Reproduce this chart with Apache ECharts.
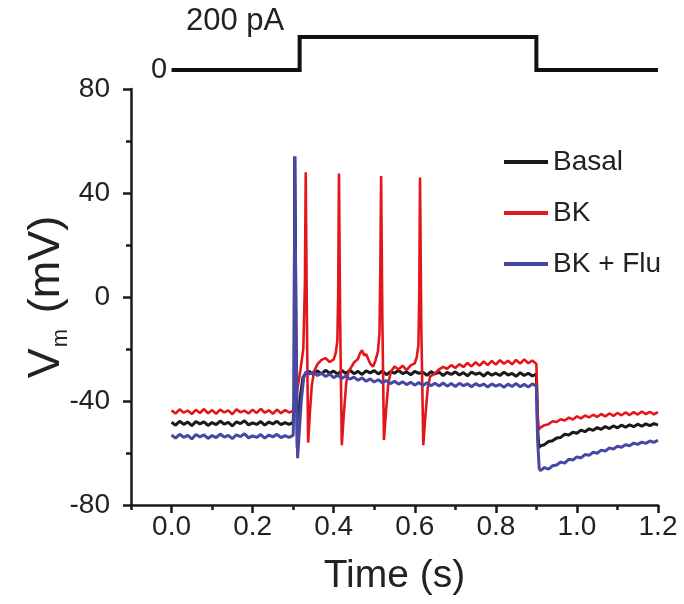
<!DOCTYPE html>
<html>
<head>
<meta charset="utf-8">
<script src="https://cdn.jsdelivr.net/npm/echarts@6/dist/echarts.min.js"></script>
<style>
html,body{margin:0;padding:0;background:#fff;}
#chart{width:684px;height:604px;}
</style>
</head>
<body>
<div id="chart"></div>
<script>
// ---- data (time in s, membrane potential in mV) ----
const basal = [[0.00,-48.2],[0.01,-49.3],[0.02,-47.8],[0.03,-49.0],[0.04,-48.1],[0.05,-49.5],[0.06,-47.9],[0.07,-48.8],[0.08,-48.0],[0.09,-49.4],[0.10,-48.3],[0.11,-49.1],[0.12,-47.7],[0.13,-48.9],[0.14,-48.2],[0.15,-49.6],[0.16,-48.0],[0.17,-48.7],[0.18,-47.6],[0.19,-49.2],[0.20,-48.4],[0.21,-49.0],[0.22,-47.9],[0.23,-49.3],[0.24,-48.1],[0.25,-48.8],[0.26,-47.8],[0.27,-49.1],[0.28,-48.3],[0.29,-49.0],[0.30,-48.2],
[0.302,-40],[0.304,54],[0.307,-10],[0.310,-58],[0.313,-50],[0.318,-38],[0.324,-31],[0.33,-29.5],
[0.34,-28.6],[0.35,-29.8],[0.36,-28.4],[0.37,-29.6],[0.38,-28.2],[0.39,-29.3],[0.40,-28.5],[0.41,-29.7],[0.42,-28.3],[0.43,-29.4],[0.44,-28.1],[0.45,-29.5],[0.46,-28.6],[0.47,-29.8],[0.48,-28.4],[0.49,-29.2],[0.50,-28.3],[0.51,-29.6],[0.52,-28.5],[0.53,-29.9],[0.54,-28.7],[0.55,-29.3],[0.56,-28.2],[0.57,-29.5],[0.58,-28.8],[0.59,-29.9],[0.60,-28.6],[0.61,-29.4],[0.62,-28.9],[0.63,-30.1],[0.64,-28.7],[0.65,-29.6],[0.66,-28.9],[0.67,-30.2],[0.68,-29.0],[0.69,-29.8],[0.70,-28.8],[0.71,-30.0],[0.72,-29.1],[0.73,-30.3],[0.74,-28.9],[0.75,-29.7],[0.76,-29.2],[0.77,-30.4],[0.78,-29.0],[0.79,-30.1],[0.80,-29.3],[0.81,-30.2],[0.82,-28.9],[0.83,-30.0],[0.84,-29.4],[0.85,-30.5],[0.86,-29.1],[0.87,-30.2],[0.88,-29.3],[0.89,-30.4],[0.90,-29.6],
[0.903,-50],[0.906,-58],[0.91,-57.2],[0.92,-56.8],[0.93,-55.6],[0.94,-55.3],[0.95,-54.2],[0.96,-54.0],[0.97,-52.8],[0.98,-53.1],[0.99,-52.0],[1.00,-52.4],[1.01,-51.2],[1.02,-51.8],[1.03,-50.7],[1.04,-51.3],[1.05,-50.2],[1.06,-50.9],[1.07,-49.8],[1.08,-50.6],[1.09,-49.6],[1.10,-50.3],[1.11,-49.3],[1.12,-50.1],[1.13,-49.2],[1.14,-49.9],[1.15,-48.9],[1.16,-49.7],[1.17,-48.8],[1.18,-49.5],[1.19,-48.7],[1.20,-49.3]];

const bk = [[0.00,-43.6],[0.01,-44.8],[0.02,-43.2],[0.03,-44.5],[0.04,-43.7],[0.05,-45.0],[0.06,-43.4],[0.07,-44.6],[0.08,-43.1],[0.09,-44.7],[0.10,-43.5],[0.11,-44.9],[0.12,-43.3],[0.13,-44.4],[0.14,-43.6],[0.15,-45.1],[0.16,-43.2],[0.17,-44.3],[0.18,-43.7],[0.19,-44.8],[0.20,-43.4],[0.21,-44.6],[0.22,-43.0],[0.23,-44.5],[0.24,-43.6],[0.25,-44.9],[0.26,-43.3],[0.27,-44.7],[0.28,-43.5],[0.29,-44.4],[0.30,-43.8],
[0.305,-42],[0.31,-36],[0.318,-28],[0.325,-20],[0.329,5],[0.331,48],[0.334,-10],[0.337,-56],[0.341,-45],[0.346,-34],[0.352,-28.5],
[0.36,-25.8],[0.37,-24.2],[0.38,-23.5],[0.39,-25.0],[0.40,-24.0],[0.405,-21.5],[0.409,-17],[0.411,0],[0.413,47.5],[0.416,-10],[0.420,-57],[0.425,-45],[0.431,-33],[0.437,-28.5],
[0.445,-26.6],[0.45,-25.2],[0.46,-23.8],[0.465,-21.6],[0.47,-20.5],[0.475,-22.4],[0.48,-22.0],[0.49,-25.6],[0.497,-26.8],[0.503,-24.5],[0.509,-21.0],[0.513,-14],[0.515,10],[0.517,46.5],[0.52,-8],[0.524,-55],[0.529,-44],[0.535,-33],[0.541,-28.8],
[0.55,-26.7],[0.56,-27.9],[0.57,-26.4],[0.58,-28.1],[0.59,-26.3],[0.60,-25.5],[0.605,-23.0],[0.609,-18.5],[0.611,0],[0.613,46],[0.616,-10],[0.621,-57],[0.626,-46],[0.632,-35],[0.638,-30.5],
[0.65,-29.4],[0.66,-27.8],[0.67,-26.9],[0.68,-27.6],[0.69,-26.2],[0.70,-27.3],[0.71,-25.8],[0.72,-26.9],[0.73,-25.4],[0.74,-26.7],[0.75,-25.1],[0.76,-26.4],[0.77,-24.8],[0.78,-26.2],[0.79,-24.6],[0.80,-26.0],[0.81,-24.3],[0.82,-25.7],[0.83,-24.5],[0.84,-25.9],[0.85,-24.2],[0.86,-25.6],[0.87,-24.0],[0.88,-25.5],[0.89,-24.4],[0.90,-25.8],
[0.903,-45],[0.906,-51],[0.91,-50.2],[0.92,-49.3],[0.93,-48.9],[0.94,-47.8],[0.95,-48.1],[0.96,-47.0],[0.97,-47.5],[0.98,-46.4],[0.99,-47.1],[1.00,-45.9],[1.01,-46.7],[1.02,-45.6],[1.03,-46.3],[1.04,-45.3],[1.05,-46.1],[1.06,-45.0],[1.07,-45.9],[1.08,-44.8],[1.09,-45.7],[1.10,-44.6],[1.11,-45.5],[1.12,-44.4],[1.13,-45.4],[1.14,-44.3],[1.15,-45.2],[1.16,-44.1],[1.17,-45.0],[1.18,-44.2],[1.19,-45.1],[1.20,-44.3]];

const bkFlu = [[0.00,-53.1],[0.01,-54.3],[0.02,-52.8],[0.03,-54.0],[0.04,-53.2],[0.05,-54.6],[0.06,-52.9],[0.07,-53.8],[0.08,-53.0],[0.09,-54.4],[0.10,-53.3],[0.11,-54.1],[0.12,-52.7],[0.13,-53.9],[0.14,-53.2],[0.15,-54.5],[0.16,-53.0],[0.17,-53.7],[0.18,-52.6],[0.19,-54.2],[0.20,-53.4],[0.21,-54.0],[0.22,-52.9],[0.23,-54.3],[0.24,-53.1],[0.25,-53.8],[0.26,-52.8],[0.27,-54.1],[0.28,-53.3],[0.29,-54.0],[0.30,-53.2],
[0.302,-42],[0.304,54],[0.307,-12],[0.311,-62],[0.315,-52],[0.32,-40],[0.326,-31],[0.332,-28.8],
[0.34,-29.6],[0.35,-28.9],[0.36,-30.2],[0.37,-29.3],[0.38,-30.6],[0.39,-29.7],[0.40,-31.0],[0.41,-30.1],[0.42,-31.3],[0.43,-30.4],[0.44,-31.6],[0.45,-30.8],[0.46,-32.0],[0.47,-31.1],[0.48,-32.4],[0.49,-31.5],[0.50,-32.7],[0.51,-31.8],[0.52,-33.0],[0.53,-32.1],[0.54,-33.3],[0.55,-32.4],[0.56,-33.5],[0.57,-32.6],[0.58,-33.7],[0.59,-32.8],[0.60,-33.9],[0.61,-32.9],[0.62,-34.0],[0.63,-33.0],[0.64,-34.1],[0.65,-33.2],[0.66,-34.2],[0.67,-33.1],[0.68,-34.3],[0.69,-33.3],[0.70,-34.4],[0.71,-33.2],[0.72,-34.1],[0.73,-33.4],[0.74,-34.5],[0.75,-33.3],[0.76,-34.2],[0.77,-33.5],[0.78,-34.6],[0.79,-33.4],[0.80,-34.3],[0.81,-33.6],[0.82,-34.7],[0.83,-33.5],[0.84,-34.4],[0.85,-33.3],[0.86,-34.5],[0.87,-33.6],[0.88,-34.6],[0.89,-33.4],[0.90,-34.3],
[0.903,-55],[0.907,-66],[0.91,-66.8],[0.92,-65.6],[0.93,-66.2],[0.94,-64.9],[0.95,-64.6],[0.96,-63.5],[0.97,-63.9],[0.98,-62.4],[0.99,-62.7],[1.00,-61.5],[1.01,-61.9],[1.02,-60.6],[1.03,-60.9],[1.04,-59.7],[1.05,-60.1],[1.06,-58.9],[1.07,-59.2],[1.08,-58.1],[1.09,-58.5],[1.10,-57.4],[1.11,-57.8],[1.12,-56.8],[1.13,-57.2],[1.14,-56.2],[1.15,-56.7],[1.16,-55.8],[1.17,-56.3],[1.18,-55.4],[1.19,-55.9],[1.20,-55.1]];

// current step protocol (pA)
const stimT = [0, 0.316, 0.316, 0.9, 0.9, 1.2];
const stimI = [0, 0, 200, 200, 0, 0];

const seriesNames = ['Basal', 'BK', 'BK + Flu'];
const xMajorTicks = [0, 0.2, 0.4, 0.6, 0.8, 1.0, 1.2];
const xMinorTicks = [-0.1, 0.1, 0.3, 0.5, 0.7, 0.9, 1.1];
const yTicks = [-80, -40, 0, 40, 80];

// ---- chart ----
const FONT = '"Liberation Sans", Arial, sans-serif';
const chart = echarts.init(document.getElementById('chart'), null, {renderer: 'canvas'});
const AX = '#1a1a1a';
const TXT = '#222';

chart.setOption({
  animation: false,
  backgroundColor: '#fff',
  grid: [
    {left: 131, right: 26, top: 89, bottom: 99},
    {left: 131, right: 26, top: 37, bottom: 534}
  ],
  legend: {
    data: seriesNames,
    orient: 'vertical',
    left: 499, top: 143,
    itemWidth: 44, itemHeight: 4, itemGap: 23,
    icon: 'rect',
    textStyle: {fontFamily: FONT, fontSize: 28, color: TXT, padding: [0, 0, 0, 0]}
  },
  xAxis: [
    {
      type: 'value', gridIndex: 0, min: -0.1, max: 1.2, position: 'bottom',
      name: 'Time (s)', nameLocation: 'middle', nameGap: 52, nameMoveOverlap: false,
      nameTextStyle: {fontFamily: FONT, fontSize: 39, color: TXT},
      axisLine: {onZero: false, lineStyle: {color: AX, width: 2.5}},
      axisTick: {show: true, customValues: xMajorTicks, length: 8, lineStyle: {color: AX, width: 2.5}},
      axisLabel: {customValues: xMajorTicks, margin: 8, fontFamily: FONT, fontSize: 28, color: TXT,
        formatter: v => v.toFixed(1)},
      splitLine: {show: false}
    },
    {
      type: 'value', gridIndex: 0, min: -0.1, max: 1.2, position: 'bottom', offset: 0,
      axisLine: {show: false, onZero: false},
      axisTick: {show: true, customValues: xMinorTicks, length: 5, lineStyle: {color: AX, width: 2.5}},
      axisLabel: {show: false},
      splitLine: {show: false}
    },
    {
      type: 'value', gridIndex: 1, min: -0.1, max: 1.2, show: false
    }
  ],
  yAxis: [
    {
      type: 'value', gridIndex: 0, min: -80, max: 80, interval: 40, position: 'left',
      name: '{v|V}{m|m}{v| (mV)}', nameLocation: 'middle', nameGap: 59, nameRotate: 90, nameMoveOverlap: false,
      nameTextStyle: {
        rich: {
          v: {fontFamily: FONT, fontSize: 45, color: TXT, lineHeight: 50},
          m: {fontFamily: FONT, fontSize: 22, color: TXT, lineHeight: 20, verticalAlign: 'bottom', padding: [0, 3, 0, 1]}
        }
      },
      axisLine: {show: true, onZero: false, lineStyle: {color: AX, width: 2.5}},
      axisTick: {show: true, length: 8, lineStyle: {color: AX, width: 2.5}},
      minorTick: {show: true, splitNumber: 2, length: 5, lineStyle: {color: AX, width: 2.5}},
      axisLabel: {margin: 21, fontFamily: FONT, fontSize: 28, color: TXT, customValues: yTicks},
      splitLine: {show: false}, minorSplitLine: {show: false}
    },
    {
      type: 'value', gridIndex: 1, min: 0, max: 200, show: false
    }
  ],
  series: [
    {name: 'Basal', type: 'line', xAxisIndex: 0, yAxisIndex: 0, data: basal,
      showSymbol: false, symbol: 'none', color: '#1a1a1a', lineStyle: {width: 3, color: '#1a1a1a'}, z: 2},
    {name: 'BK', type: 'line', xAxisIndex: 0, yAxisIndex: 0, data: bk,
      showSymbol: false, symbol: 'none', color: '#e3161c', lineStyle: {width: 2.6, color: '#e3161c'}, z: 3},
    {name: 'BK + Flu', type: 'line', xAxisIndex: 0, yAxisIndex: 0, data: bkFlu,
      showSymbol: false, symbol: 'none', color: '#4848a4', lineStyle: {width: 3, color: '#4848a4'}, z: 4},
    {name: 'stim', type: 'line', xAxisIndex: 2, yAxisIndex: 1,
      data: stimT.map((t, i) => [t, stimI[i]]),
      showSymbol: false, symbol: 'none', color: '#111', lineStyle: {width: 4, color: '#111', join: 'miter'}}
  ],
  graphic: [
    {type: 'text', left: 151, top: 55, style: {text: '0', fontFamily: FONT, fontSize: 29, fill: TXT}},
    {type: 'text', left: 186, top: 6, style: {text: '200 pA', fontFamily: FONT, fontSize: 31, fill: TXT}}
  ]
});
</script>
</body>
</html>
